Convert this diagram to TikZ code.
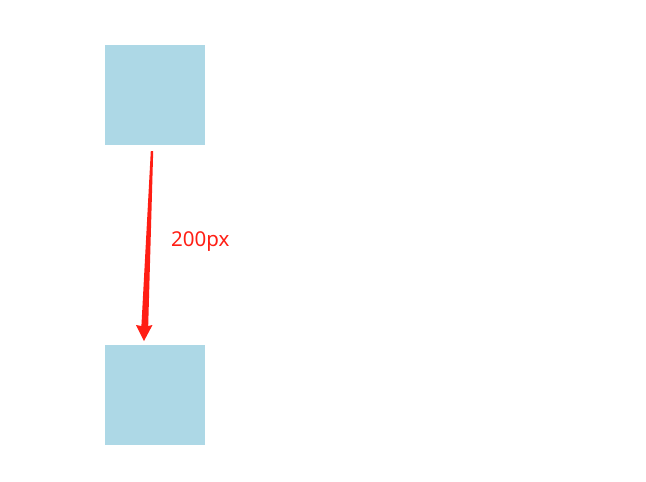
\documentclass[tikz,border=0pt]{standalone}
\usepackage{fontspec}
\setmainfont{Noto Sans}
\definecolor{boxblue}{HTML}{ADD8E6}
\definecolor{arrred}{HTML}{FF1E14}
\begin{document}
\begin{tikzpicture}[x=1pt,y=-1pt,
  bluebox/.style={fill=boxblue,draw=none,minimum width=100pt,minimum height=100pt,inner sep=0pt,outer sep=0pt},
  lbl/.style={text=arrred,font=\fontsize{20.5}{22}\selectfont,inner sep=0pt,anchor=base west}]
\useasboundingbox (0,0) rectangle (646,482);
\node[bluebox] (top) at (155,95) {};
\node[bluebox] (bot) at (155,395) {};
\coordinate (t) at ([xshift=-11pt,yshift=4pt]bot.north);
\fill[arrred] (150.8,151) -- (153.2,151) -- (148.2,326) -- (152.5,325) -- (t) -- (136,325) -- (141.4,326) -- cycle;
\node[lbl] (l) at (171,246) {200px};
\end{tikzpicture}
\end{document}
